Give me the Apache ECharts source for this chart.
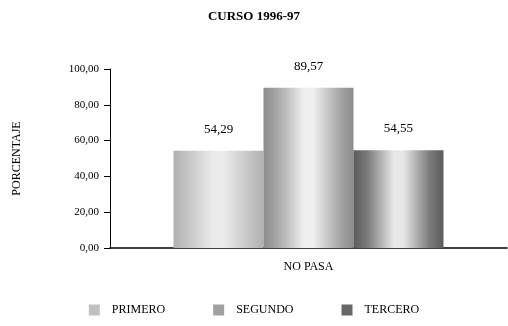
<!DOCTYPE html>
<html><head><meta charset="utf-8">
<script src="https://cdn.jsdelivr.net/npm/echarts@6/dist/echarts.min.js"></script>
<style>html,body{margin:0;padding:0;background:#fff}#c{width:508px;height:326px}</style>
</head><body><div id="c"></div>
<script>
var categories = ['NO PASA'];
var seriesNames = ['PRIMERO', 'SEGUNDO', 'TERCERO'];
var primero = [54.29];
var segundo = [89.57];
var tercero = [54.55];
var yTicks = [0, 20, 40, 60, 80, 100];

function grad(dark, mid, light) {
  return new echarts.graphic.LinearGradient(0, 0, 1, 0, [
    {offset: 0, color: dark}, {offset: 0.15, color: mid},
    {offset: 0.45, color: light}, {offset: 0.55, color: light},
    {offset: 0.85, color: mid}, {offset: 1, color: dark}
  ]);
}
var fills = [
  grad('#b0b0b0', '#c4c4c4', '#ececec'),
  grad('#8c8c8c', '#a6a6a6', '#efefef'),
  grad('#5c5c5c', '#7a7a7a', '#e8e8e8')
];
var legendColors = ['#c0c0c0', '#a0a0a0', '#686868'];
var dataSets = [primero, segundo, tercero];
var font = '"Liberation Serif", "Times New Roman", serif';

var chart = echarts.init(document.getElementById('c'));
chart.setOption({
  animation: false,
  textStyle: {fontFamily: font},
  title: {text: 'CURSO 1996-97', left: 'center', top: 5,
    textStyle: {fontFamily: font, fontSize: 13, fontWeight: 'bold', color: '#000'}},
  grid: {left: 110, right: 1, top: 69, bottom: 78},
  legend: {bottom: 5, left: 'center', itemWidth: 11, itemHeight: 11, itemGap: 48,
    icon: 'rect',
    textStyle: {fontFamily: font, fontSize: 12, color: '#000', padding: [0, 0, 0, 7]},
    data: seriesNames.map(function(n, i){ return {name: n, itemStyle: {color: legendColors[i]}}; })},
  xAxis: {type: 'category', data: categories,
    axisLine: {lineStyle: {color: '#000', width: 1.5}},
    axisTick: {show: false},
    axisLabel: {fontFamily: font, fontSize: 12, color: '#000', margin: 13}},
  yAxis: {type: 'value', min: 0, max: 100, interval: 20,
    name: 'PORCENTAJE', nameLocation: 'middle', nameGap: 87, nameRotate: 90,
    nameTextStyle: {fontFamily: font, fontSize: 12, color: '#000'},
    axisLine: {show: true, lineStyle: {color: '#000'}},
    axisTick: {show: true, inside: false, length: 6, lineStyle: {color: '#000'}},
    splitLine: {show: false},
    axisLabel: {fontFamily: font, fontSize: 11, color: '#000', margin: 11,
      formatter: function(v){ return v.toFixed(2).replace('.', ','); }}},
  series: dataSets.map(function(d, i){
    return {name: seriesNames[i], type: 'bar', data: d,
      barGap: '0%', barCategoryGap: '32%',
      itemStyle: {color: fills[i]},
      label: {show: true, position: 'top', distance: 15,
        fontFamily: font, fontSize: 13, color: '#000',
        formatter: function(p){ return p.value.toFixed(2).replace('.', ','); }}};
  })
});
</script></body></html>
